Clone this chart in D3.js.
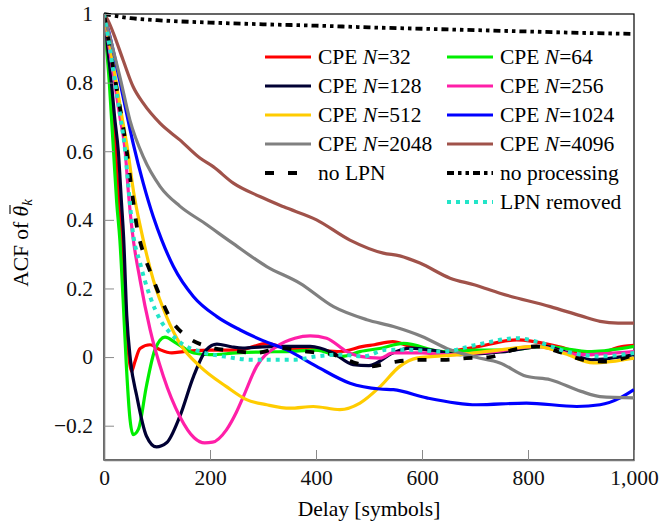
<!DOCTYPE html>
<html lang="en">
<head>
  <meta charset="UTF-8" />
  <title>ACF of CPE</title>
  <script src="https://d3js.org/d3.v7.min.js"></script>
  <style>
    body { margin: 0; background: #fff; }
    svg, svg text { font-family: "Liberation Serif", Tinos, "Times New Roman", "DejaVu Serif", serif; }
  </style>
</head>
<body>
  <svg id="chart" width="662" height="525"></svg>
  <script>
    // ---- data (delay in symbols, ACF value) ----
    const xTicks = [0, 200, 400, 600, 800, 1000];
    const yTicks = [-0.2, 0, 0.2, 0.4, 0.6, 0.8, 1];

    const cpe32 = [[0,1],[6,0.9],[12,0.8],[17,0.7],[22,0.6],[28,0.45],[34,0.32],[41,0.14],[47,0.0],[52,-0.042],[58,-0.015],[68,0.025],[87,0.036],[105,0.022],[128,0.012],[150,0.016],[200,0.02],[257,0.021],[307,0.04],[345,0.026],[400,0.021],[445,0.016],[489,0.031],[510,0.036],[545,0.045],[577,0.031],[640,0.016],[691,0.026],[779,0.05],[857,0.031],[920,0.007],[980,0.031],[1000,0.034]];
    const cpe64 = [[0,1],[5,0.9],[10,0.8],[14,0.7],[18,0.6],[24,0.45],[30,0.34],[36,0.17],[42,-0.02],[49,-0.18],[55,-0.226],[65,-0.21],[80,-0.085],[96,0.021],[115,0.058],[137,0.04],[169,0.012],[200,0.007],[250,0.012],[300,0.015],[345,0.016],[400,0.02],[450,0.002],[483,0.016],[520,0.025],[565,0.04],[640,0.016],[700,0.02],[766,0.021],[829,0.031],[920,0.016],[1000,0.031]];
    const cpe128 = [[0,1],[7,0.9],[14,0.8],[20,0.7],[27,0.6],[33,0.45],[37,0.35],[43,0.12],[50,-0.01],[62,-0.115],[80,-0.23],[99,-0.262],[118,-0.25],[143,-0.173],[169,-0.056],[193,0.021],[213,0.038],[240,0.03],[262,0.026],[300,0.03],[338,0.031],[389,0.031],[432,0.012],[470,-0.022],[500,-0.025],[545,0.012],[577,0.026],[620,0.02],[672,0.007],[750,0.015],[829,0.031],[880,0.01],[920,-0.008],[1000,0.007]];
    const cpe256 = [[0,1],[10,0.9],[20,0.8],[30,0.7],[40,0.6],[46,0.48],[53,0.37],[68,0.225],[87,0.08],[112,-0.056],[143,-0.173],[170,-0.235],[190,-0.25],[205,-0.248],[231,-0.212],[250,-0.16],[263,-0.115],[288,-0.027],[326,0.031],[360,0.055],[389,0.062],[420,0.055],[458,0.016],[483,0.002],[521,-0.003],[545,0.012],[600,0.012],[640,0.007],[735,0.016],[816,0.031],[892,0.007],[1000,0.016]];
    const cpe512 = [[0,1],[12,0.9],[23,0.8],[34,0.7],[45,0.6],[56,0.48],[70,0.37],[93,0.225],[118,0.118],[143,0.04],[181,-0.027],[231,-0.086],[269,-0.124],[307,-0.139],[351,-0.149],[395,-0.144],[445,-0.153],[483,-0.134],[521,-0.086],[558,-0.027],[590,-0.003],[672,0.007],[747,0.021],[816,0.031],[870,0.01],[923,-0.017],[1000,-0.003]];
    const cpe1024 = [[0,1],[12,0.93],[24,0.846],[36,0.759],[55,0.623],[74,0.507],[93,0.409],[109,0.341],[131,0.264],[169,0.176],[213,0.118],[257,0.079],[300,0.048],[345,0.021],[401,-0.027],[464,-0.076],[521,-0.093],[546,-0.095],[609,-0.119],[703,-0.139],[797,-0.134],[892,-0.144],[936,-0.139],[974,-0.119],[1000,-0.095]];
    const cpe2048 = [[0,1],[15,0.91],[30,0.817],[49,0.69],[74,0.584],[106,0.497],[143,0.44],[190,0.39],[240,0.335],[307,0.264],[370,0.215],[433,0.147],[496,0.109],[546,0.089],[600,0.06],[653,0.021],[700,0.0],[747,-0.017],[797,-0.056],[842,-0.066],[900,-0.1],[936,-0.115],[1000,-0.119]];
    const cpe4096 = [[0,1],[8,0.98],[18,0.943],[36,0.866],[55,0.788],[74,0.74],[106,0.681],[143,0.633],[181,0.58],[206,0.555],[244,0.507],[294,0.468],[339,0.438],[401,0.4],[464,0.341],[527,0.303],[558,0.295],[596,0.274],[653,0.23],[700,0.21],[747,0.186],[842,0.147],[900,0.12],[936,0.104],[970,0.099],[1000,0.099]];
    const noLpn = [[0,1],[11,0.9],[22,0.8],[33,0.7],[43,0.6],[52,0.49],[62,0.38],[75,0.3],[87,0.25],[106,0.176],[125,0.113],[156,0.06],[194,0.031],[244,0.018],[288,0.012],[332,0.026],[383,0.016],[433,0.007],[470,-0.015],[502,-0.027],[552,-0.013],[596,-0.008],[640,-0.008],[684,-0.003],[728,0.0],[772,0.021],[816,0.031],[857,0.016],[904,-0.008],[948,-0.013],[1000,0.007]];
    const noProcessing = [[0,1],[50,0.988],[100,0.982],[200,0.975],[300,0.97],[400,0.966],[500,0.961],[600,0.957],[700,0.953],[800,0.949],[900,0.945],[1000,0.942]];
    const lpnRemoved = [[0,1],[11,0.9],[21,0.8],[31,0.7],[40,0.6],[47,0.48],[54,0.37],[68,0.274],[87,0.176],[106,0.109],[125,0.07],[150,0.036],[181,0.016],[225,0.002],[282,-0.008],[357,-0.008],[401,0.002],[445,0.007],[489,0.002],[533,0.021],[577,0.021],[640,0.016],[703,0.036],[779,0.055],[816,0.045],[873,0.016],[936,0.002],[1000,0.012]];

    const series = [
      { n: "32",   values: cpe32,   color: "#ff0000" },
      { n: "64",   values: cpe64,   color: "#00ee00" },
      { n: "128",  values: cpe128,  color: "#000033" },
      { n: "256",  values: cpe256,  color: "#ff1fa8" },
      { n: "512",  values: cpe512,  color: "#ffcc00" },
      { n: "1024", values: cpe1024, color: "#0000ff" },
      { n: "2048", values: cpe2048, color: "#808080" },
      { n: "4096", values: cpe4096, color: "#a0524a" },
      { name: "no LPN",        values: noLpn,        color: "#000", dash: "9,14", w: 3.8 },
      { name: "no processing", values: noProcessing, color: "#000", dash: "7,4,3.5,4,3.5,4", w: 3.8 },
      { name: "LPN removed",   values: lpnRemoved,   color: "#22e5c8", dash: "4,5", w: 4 }
    ];

    const FONT = '"Liberation Serif", Tinos, "Times New Roman", "DejaVu Serif", serif';
    const svg = d3.select("#chart").attr("font-family", FONT);
    const pLeft = 104, pRight = 634, pTop = 14, pBottom = 460;

    const x = d3.scaleLinear().domain([0, 1000]).range([pLeft, pRight]);
    const y = d3.scaleLinear().domain([-0.3, 1]).range([pBottom, pTop]);

    svg.append("defs").append("clipPath").attr("id", "plot-clip")
      .append("rect").attr("x", pLeft).attr("y", pTop - 2)
      .attr("width", pRight - pLeft).attr("height", pBottom - pTop + 2);

    // frame: top / right black
    svg.append("rect")
      .attr("x", pLeft).attr("y", pTop)
      .attr("width", pRight - pLeft).attr("height", pBottom - pTop)
      .attr("fill", "none").attr("stroke", "#000").attr("stroke-width", 1.2);

    const line = d3.line()
      .x(d => x(d[0]))
      .y(d => y(d[1]))
      .curve(d3.curveMonotoneX);

    const plot = svg.append("g").attr("clip-path", "url(#plot-clip)");
    series.forEach(s => {
      plot.append("path")
        .attr("d", line(s.values))
        .attr("fill", "none")
        .attr("stroke", s.color)
        .attr("stroke-width", s.w || 3.2)
        .attr("stroke-dasharray", s.dash || null)
        .attr("stroke-linejoin", "round");
    });

    // axes (left / bottom in grey, ticks pointing inward)
    const fmtY = d3.format("~g");
    const xAxis = svg.append("g")
      .attr("transform", `translate(0,${pBottom})`)
      .call(d3.axisBottom(x).tickValues(xTicks).tickFormat(d3.format(","))
        .tickSizeInner(-10).tickSizeOuter(0).tickPadding(10));
    const yAxis = svg.append("g")
      .attr("transform", `translate(${pLeft},0)`)
      .call(d3.axisLeft(y).tickValues(yTicks).tickFormat(fmtY)
        .tickSizeInner(-10).tickSizeOuter(0).tickPadding(11));

    [xAxis, yAxis].forEach(g => {
      g.attr("font-family", FONT).attr("font-size", 21.5);
      g.select(".domain").attr("stroke", "#7a7a7a").attr("stroke-width", 1.6);
      g.selectAll(".tick line").attr("stroke", "#8a8a8a").attr("stroke-width", 1);
      g.selectAll(".tick text").attr("fill", "#111");
    });

    // axis titles
    svg.append("text")
      .attr("x", (pLeft + pRight) / 2).attr("y", 516)
      .attr("text-anchor", "middle")
      .attr("font-size", 21.5)
      .text("Delay [symbols]");

    const ylg = svg.append("g").attr("transform", "translate(28,243) rotate(-90)");
    const yl = ylg.append("text")
      .attr("text-anchor", "middle")
      .attr("font-size", 21.5);
    yl.append("tspan").text("ACF of ");
    const theta = yl.append("tspan").attr("font-style", "italic").text("θ");
    yl.append("tspan").attr("font-style", "italic").attr("font-size", 15)
      .attr("dy", 4).text("k");
    // bar over theta
    const tb = theta.node().getBBox();
    ylg.append("line")
      .attr("x1", tb.x + 2.5).attr("x2", tb.x + tb.width + 0.5)
      .attr("y1", tb.y + 1).attr("y2", tb.y + 1)
      .attr("stroke", "#000").attr("stroke-width", 1.1);

    // legend (two columns, no frame)
    const rowY = [57, 86, 115, 144, 173, 202];
    const colX = [265, 447];
    const legendPos = [
      [0, 0], [1, 0], [0, 1], [1, 1], [0, 2], [1, 2], [0, 3], [1, 3],
      [0, 4], [1, 4], [1, 5]
    ];
    series.forEach((s, i) => {
      const [c, r] = legendPos[i];
      const lx = colX[c], ly = rowY[r];
      const g = svg.append("g");
      g.append("line")
        .attr("x1", lx).attr("x2", lx + 46)
        .attr("y1", ly).attr("y2", ly)
        .attr("stroke", s.color)
        .attr("stroke-width", s.w || 3.2)
        .attr("stroke-dasharray", s.dash || null);
      const t = g.append("text")
        .attr("x", lx + 53).attr("y", ly)
        .attr("dy", "0.33em")
        .attr("font-size", 21.5);
      if (s.n) {
        t.append("tspan").text("CPE ");
        t.append("tspan").attr("font-style", "italic").text("N");
        t.append("tspan").text("=" + s.n);
      } else {
        t.text(s.name);
      }
    });
  </script>
</body>
</html>
